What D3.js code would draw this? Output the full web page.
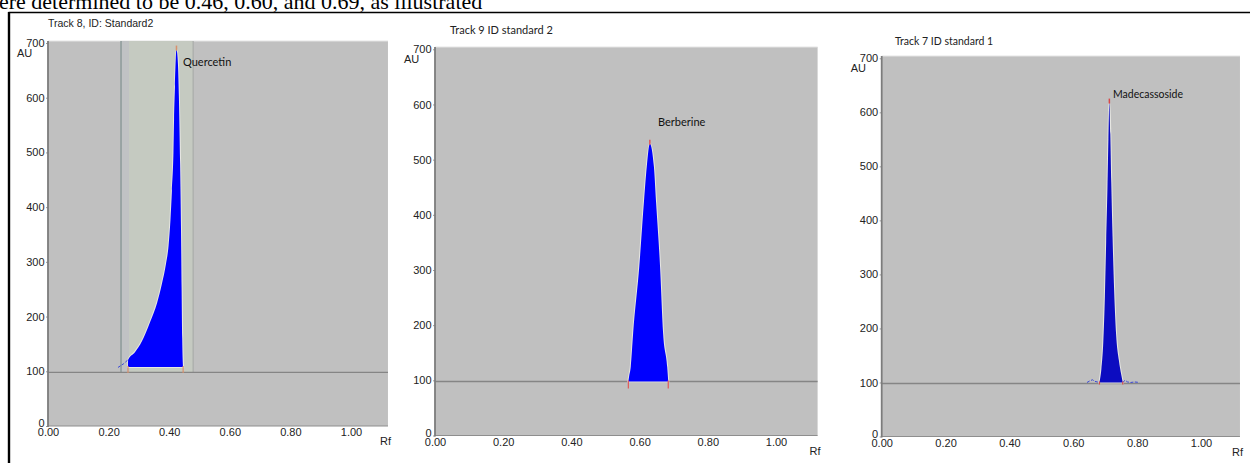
<!DOCTYPE html>
<html>
<head>
<meta charset="utf-8">
<script src="https://cdn.jsdelivr.net/npm/d3@7"></script>
<style>
  body { margin: 0; background: #fff; }
  svg { display: block; }
</style>
</head>
<body>
<script>
// tick labels shared by the three densitograms
var yTicks = [0, 100, 200, 300, 400, 500, 600, 700];
var xTicks = [0, 0.2, 0.4, 0.6, 0.8, 1.0];

// track 8 - quercetin (Rf, AU)
var quercetinRf = [0.264, 0.2645, 0.287, 0.310, 0.337, 0.360, 0.376, 0.389, 0.398, 0.404, 0.409, 0.414, 0.416, 0.419, 0.424, 0.429, 0.432, 0.436, 0.439, 0.441, 0.443, 0.446];
var quercetinAU = [108, 121, 135, 155, 190, 225, 260, 295, 330, 375, 430, 500, 560, 620, 688, 660, 601, 481, 358, 250, 160, 108];

// track 9 - berberine
var berberineRf = [0.567, 0.569, 0.574, 0.581, 0.599, 0.613, 0.621, 0.630, 0.642, 0.648, 0.660, 0.669, 0.681, 0.684];
var berberineAU = [98, 106, 124, 185, 306, 426, 487, 529, 487, 426, 306, 185, 124, 98];

// track 7 - madecassoside
var madecassosideRf = [0.682, 0.688, 0.694, 0.699, 0.703, 0.707, 0.710, 0.713, 0.716, 0.719, 0.723, 0.728, 0.734, 0.743, 0.750, 0.755];
var madecassosideAU = [100, 125, 175, 260, 360, 460, 550, 618, 560, 470, 370, 270, 190, 140, 115, 100];
// little noise on both sides of the madecassoside peak
var madeNoiseLeftRf = [0.643, 0.652, 0.660, 0.668, 0.682];
var madeNoiseLeftAU = [100, 103, 105, 102, 100];
var madeNoiseRightRf = [0.755, 0.762, 0.770, 0.780, 0.792, 0.807];
var madeNoiseRightAU = [100, 104, 101, 100, 101, 100];

var quercetinTailRf = [0.231, 0.25, 0.264];
var quercetinTailAU = [107, 114, 121];

// integration window of track 8
var windowRf = [0.241, 0.479];
var baselineAU = 98;

var W = 1250, H = 463;
var svg = d3.select("body").append("svg").attr("width", W).attr("height", H);

// clipped sentence of the paper at the very top
svg.append("text")
  .attr("x", -1).attr("y", 9)
  .attr("font-family", "Liberation Serif, Times New Roman, serif")
  .attr("font-size", 22)
  .attr("fill", "#000")
  .text("ere determined to be 0.46, 0.60, and 0.69, as illustrated");

// frame
svg.append("line").attr("x1", 8.5).attr("x2", W).attr("y1", 12.5).attr("y2", 12.5)
  .attr("stroke", "#000").attr("stroke-width", 1.6);
svg.append("line").attr("x1", 9).attr("x2", 9).attr("y1", 12).attr("y2", H)
  .attr("stroke", "#000").attr("stroke-width", 2.4);

var narrow = "Liberation Sans Narrow, Arial Narrow, Liberation Sans, sans-serif";
var calib = "Lato, Open Sans, sans-serif";

function zip(a, b) {
  return a.map(function(d, i) { return [d, b[i]]; });
}

function drawPanel(p) {
  var x = d3.scaleLinear().domain([0, 1]).range([p.x0, p.x1]);
  var y = d3.scaleLinear().domain([0, 700]).range([p.yBottom, p.yTop]);
  var xMax = 1.122;

  var g = svg.append("g");

  // grey plot field
  g.append("rect")
    .attr("x", x(0)).attr("y", p.greyTop)
    .attr("width", x(xMax) - x(0)).attr("height", p.yBottom - p.greyTop)
    .attr("fill", "#c0c0c0");
  g.append("line")
    .attr("x1", x(0)).attr("x2", x(xMax)).attr("y1", p.greyTop).attr("y2", p.greyTop)
    .attr("stroke", "#e4e4e4").attr("stroke-width", 1);

  if (p.window) {
    g.append("rect")
      .attr("x", x(p.window[0])).attr("y", p.greyTop)
      .attr("width", x(p.window[1]) - x(p.window[0])).attr("height", y(baselineAU) - p.greyTop)
      .attr("fill", "#c5cac1");
    g.append("rect")
      .attr("x", x(p.window[0])).attr("y", p.greyTop)
      .attr("width", 8).attr("height", y(baselineAU) - p.greyTop)
      .attr("fill", "#c0c2c4");
    g.append("line")
      .attr("x1", x(p.window[0])).attr("x2", x(p.window[0]))
      .attr("y1", p.greyTop).attr("y2", y(baselineAU))
      .attr("stroke", "#8c9a9a").attr("stroke-width", 1.5);
    g.append("line")
      .attr("x1", x(p.window[1])).attr("x2", x(p.window[1]))
      .attr("y1", p.greyTop).attr("y2", y(baselineAU))
      .attr("stroke", "#a9aba9").attr("stroke-width", 1.2);
  }

  // baseline
  g.append("line")
    .attr("x1", x(0)).attr("x2", x(xMax)).attr("y1", y(baselineAU)).attr("y2", y(baselineAU))
    .attr("stroke", "#858585").attr("stroke-width", 1.4);

  // peak
  var pts = zip(p.rf, p.au);
  var area = d3.area()
    .curve(d3.curveMonotoneX)
    .x(function(d) { return x(d[0]); })
    .y0(y(p.base))
    .y1(function(d) { return y(d[1]); });
  g.append("path").datum(pts).attr("d", area)
    .attr("fill", "none").attr("stroke", "#e6e6e2").attr("stroke-width", 2);
  g.append("path").datum(pts).attr("d", area)
    .attr("fill", p.color);

  var line = d3.line().x(function(d) { return x(d[0]); }).y(function(d) { return y(d[1]); });
  (p.dashed || []).forEach(function(s) {
    g.append("path").datum(zip(s[0], s[1])).attr("d", line)
      .attr("fill", "none").attr("stroke", "#3a48d8").attr("stroke-width", 1)
      .attr("stroke-dasharray", "3,1.5");
  });

  // peak top marker and integration limits
  var top = pts[d3.maxIndex(pts, function(d) { return d[1]; })];
  g.append("line")
    .attr("x1", x(top[0])).attr("x2", x(top[0]))
    .attr("y1", y(top[1]) - 4).attr("y2", y(top[1]) + 1)
    .attr("stroke", p.markColor).attr("stroke-width", 1.5);
  [p.rf[0], p.rf[p.rf.length - 1]].forEach(function(r) {
    g.append("line")
      .attr("x1", x(r)).attr("x2", x(r))
      .attr("y1", y(p.base) - 1).attr("y2", y(p.base) + p.markLen)
      .attr("stroke", p.markColor).attr("stroke-width", 1.2);
  });

  // axes
  var yAxis = d3.axisLeft(y).tickValues(yTicks).tickSize(2).tickPadding(1.5)
    .tickFormat(d3.format("d"));
  var ya = g.append("g").attr("transform", "translate(" + x(0) + ",0)").call(yAxis);
  ya.select(".domain").remove();
  ya.selectAll(".tick line").attr("stroke", "#999");
  ya.selectAll("text").attr("font-family", narrow).attr("font-size", 11).attr("fill", "#222");
  ya.selectAll(".tick").filter(function(d) { return d === 0; }).select("text")
    .attr("dy", "0.05em");

  var xAxis = d3.axisBottom(x).tickValues(xTicks).tickSize(0).tickPadding(2.5)
    .tickFormat(d3.format(".2f"));
  var xa = g.append("g").attr("transform", "translate(0," + p.yBottom + ")").call(xAxis);
  xa.select(".domain").remove();
  xa.selectAll("text").attr("font-family", narrow).attr("font-size", 11).attr("fill", "#222");

  g.append("line")
    .attr("x1", x(0)).attr("x2", x(xMax)).attr("y1", p.yBottom).attr("y2", p.yBottom)
    .attr("stroke", "#8e8e8e").attr("stroke-width", 1.2);
  g.append("line")
    .attr("x1", x(0)).attr("x2", x(0)).attr("y1", p.greyTop).attr("y2", p.yBottom + 1)
    .attr("stroke", "#7c7c7c").attr("stroke-width", 1.8);

  g.append("text")
    .attr("x", x(0) - 31).attr("y", y(700) + 14)
    .attr("font-family", narrow).attr("font-size", 11).attr("fill", "#222")
    .text("AU");
  g.append("text")
    .attr("x", x(xMax) - 8).attr("y", p.yBottom + 19)
    .attr("font-family", narrow).attr("font-size", 11).attr("fill", "#222")
    .text("Rf");

  g.append("text")
    .attr("x", p.titleX).attr("y", p.titleY)
    .attr("font-family", p.titleFont).attr("font-size", p.titleSize).attr("fill", "#222")
    .text(p.title);

  g.append("text")
    .attr("x", p.labelX).attr("y", p.labelY)
    .attr("font-family", calib).attr("font-size", p.labelSize).attr("fill", "#111")
    .text(p.label);
}

drawPanel({
  x0: 48, x1: 351, yBottom: 426, yTop: 43, greyTop: 41,
  rf: quercetinRf, au: quercetinAU, base: 108, color: "#0000ff",
  markColor: "#d8906c", markLen: 6, window: windowRf,
  dashed: [[quercetinTailRf, quercetinTailAU]],
  title: "Track 8, ID: Standard2", titleX: 48, titleY: 27, titleFont: narrow, titleSize: 10.5,
  label: "Quercetin", labelX: 183, labelY: 66, labelSize: 11
});

drawPanel({
  x0: 435, x1: 776, yBottom: 435.5, yTop: 49.3, greyTop: 47,
  rf: berberineRf, au: berberineAU, base: 98, color: "#0000ff",
  markColor: "#e05858", markLen: 7,
  title: "Track 9 ID standard 2", titleX: 450, titleY: 34, titleFont: calib, titleSize: 11,
  label: "Berberine", labelX: 658, labelY: 126, labelSize: 11
});

drawPanel({
  x0: 881.7, x1: 1201, yBottom: 436.5, yTop: 58.3, greyTop: 56,
  rf: madecassosideRf, au: madecassosideAU, base: 100, color: "#0c0cc0",
  markColor: "#d84848", markLen: 2,
  dashed: [[madeNoiseLeftRf, madeNoiseLeftAU], [madeNoiseRightRf, madeNoiseRightAU]],
  title: "Track 7 ID standard 1", titleX: 895, titleY: 45, titleFont: calib, titleSize: 10.5,
  label: "Madecassoside", labelX: 1113, labelY: 98, labelSize: 10.5
});
</script>
</body>
</html>
